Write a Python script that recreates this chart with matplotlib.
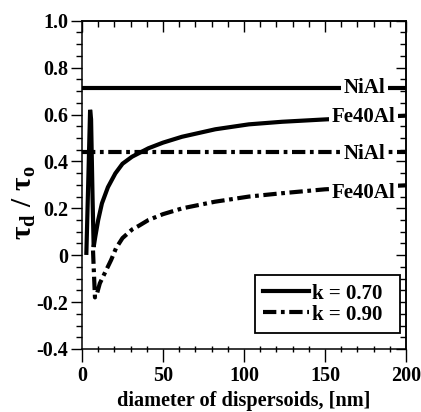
import matplotlib
matplotlib.use("Agg")
import matplotlib.pyplot as plt
from matplotlib.ticker import MultipleLocator

plt.rcParams['font.family'] = ['Liberation Serif', 'DejaVu Serif']
plt.rcParams['font.weight'] = 'bold'
plt.rcParams['mathtext.fontset'] = 'custom'
plt.rcParams['mathtext.rm'] = 'Liberation Serif:bold'
plt.rcParams['mathtext.it'] = 'Liberation Serif:bold'
plt.rcParams['mathtext.bf'] = 'Liberation Serif:bold'

# ---- data ----
nial_x = [0, 200]
nial_k070 = [0.712, 0.712]
nial_k090 = [0.44, 0.44]

fe_k070_x = [2.7, 4.0, 5.0, 5.6, 6.5, 7.2, 8.2, 10, 12.3, 16, 20.6, 25, 30.9, 41,
             50, 61.7, 82.3, 103, 123.5, 150, 175, 200]
fe_k070_y = [0.01, 0.35, 0.62, 0.58, 0.25, 0.035, 0.079, 0.15, 0.221, 0.29, 0.349, 0.39,
             0.42, 0.456, 0.48, 0.505, 0.537, 0.558, 0.569, 0.579, 0.588, 0.595]

fe_k090_x = [6.8, 7.2, 8.0, 9.0, 11, 14.5, 18, 21, 25, 31, 35, 41, 50, 62, 82, 103,
             123, 150, 175, 200]
fe_k090_y = [0.02, -0.05, -0.18, -0.17, -0.12, -0.07, -0.02, 0.03, 0.073, 0.11, 0.125,
             0.15, 0.175, 0.2, 0.228, 0.25, 0.264, 0.281, 0.29, 0.298]

labels_text = ['NiAl', 'Fe40Al', 'NiAl', 'Fe40Al']
labels_y = [0.712, 0.59, 0.43, 0.265]
labels_x = [174.5, 173.8, 174.5, 173.8]

legend_labels = ['k = 0.70', 'k = 0.90']

x_ticks = [0, 50, 100, 150, 200]
x_ticklabels = ['0', '50', '100', '150', '200']
y_ticks = [-0.4, -0.2, 0, 0.2, 0.4, 0.6, 0.8, 1.0]
y_ticklabels = ['-0.4', '-0.2', '0', '0.2', '0.4', '0.6', '0.8', '1.0']

# ---- figure ----
fig = plt.figure(figsize=(4.21, 4.12), dpi=100)
ax = fig.add_axes([82/421, 1-349/412, 324/421, (349-20.7)/412])

lw = 3.0
dd = (0, (3.2, 1.1, 0.9, 1.1))
ax.plot(nial_x, nial_k070, color='black', lw=lw, solid_capstyle='butt')
l1, = ax.plot(fe_k070_x, fe_k070_y, color='black', lw=lw, solid_joinstyle='miter')
ax.plot(nial_x, nial_k090, color='black', lw=lw, linestyle=dd)
l2, = ax.plot(fe_k090_x, fe_k090_y, color='black', lw=lw, linestyle=dd)

for t, xx, yy in zip(labels_text, labels_x, labels_y):
    ax.text(xx, yy, t, ha='center', va='center', fontsize=15, fontweight='bold',
            bbox=dict(facecolor='white', edgecolor='none', pad=2.0), zorder=5)

ax.set_xlim(0, 200)
ax.set_ylim(-0.4, 1.0)
ax.set_xticks(x_ticks)
ax.set_xticklabels(x_ticklabels)
ax.set_yticks(y_ticks)
ax.set_yticklabels(y_ticklabels)
ax.xaxis.set_minor_locator(MultipleLocator(10))
ax.yaxis.set_minor_locator(MultipleLocator(0.05))
ax.tick_params(axis='both', labelsize=14.5, top=False, right=False, width=1.0)
ax.tick_params(axis='x', which='major', direction='out', length=9, pad=3)
ax.tick_params(axis='x', which='minor', direction='inout', length=5, width=1.0)
ax.tick_params(axis='y', which='major', direction='out', length=8, pad=2)
ax.tick_params(axis='y', which='minor', direction='out', length=4, width=1.0)
for s in ax.spines.values():
    s.set_linewidth(1.1)

sx = ax.secondary_xaxis('top')
sx.set_xticks(x_ticks)
sx.xaxis.set_minor_locator(MultipleLocator(10))
sx.tick_params(which='major', direction='in', length=8, width=1.0, labeltop=False)
sx.tick_params(which='minor', direction='in', length=4, width=1.0)
sx.spines['top'].set_linewidth(1.1)

sy = ax.secondary_yaxis('right')
sy.set_yticks(y_ticks)
sy.yaxis.set_minor_locator(MultipleLocator(0.05))
sy.tick_params(which='major', direction='in', length=7, width=1.0, labelright=False)
sy.tick_params(which='minor', direction='in', length=4, width=1.0)
sy.spines['right'].set_linewidth(1.1)

leg = ax.legend([l1, l2], legend_labels, loc='lower left',
                bbox_to_anchor=((255-82)/324, 16/328.3, 145/324, 0.2), mode='expand',
                borderaxespad=0, handlelength=2.2, handletextpad=0.15,
                borderpad=0.4, labelspacing=0.05, fancybox=False, framealpha=1,
                edgecolor='black', prop={'weight': 'bold', 'size': 15})
leg.get_frame().set_linewidth(1.3)

ax.set_xlabel('diameter of dispersoids, [nm]', fontsize=14.6, fontweight='bold', labelpad=4)
fig.text(24/421, 1-203/412, r'$\tau_d\ /\ \tau_o$', rotation=90, ha='center', va='center',
         fontsize=21)

fig.savefig('out.png', dpi=100)
